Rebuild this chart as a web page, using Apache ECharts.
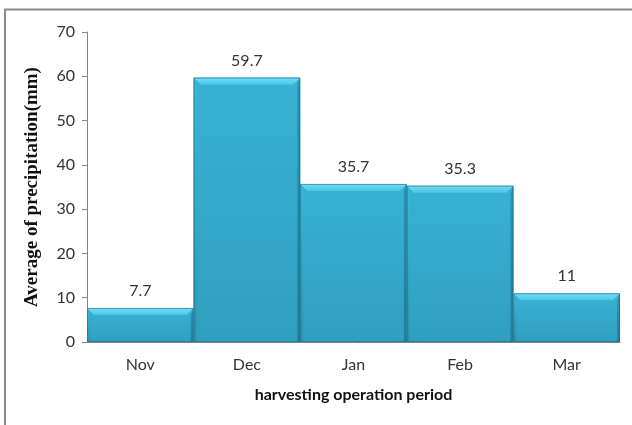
<!DOCTYPE html>
<html>
<head>
<meta charset="utf-8">
<script src="https://cdn.jsdelivr.net/npm/echarts@6/dist/echarts.min.js"></script>
<style>
html,body{margin:0;padding:0;background:#fff;}
#c{width:632px;height:425px;}
</style>
</head>
<body>
<div id="c"></div>
<script>
const categories = ['Nov', 'Dec', 'Jan', 'Feb', 'Mar'];
const values = [7.7, 59.7, 35.7, 35.3, 11];
const valueLabels = ['7.7', '59.7', '35.7', '35.3', '11'];
const yAxisTitle = 'Average of precipitation(mm)';
const xAxisTitle = 'harvesting operation period';

const chart = echarts.init(document.getElementById('c'));

function renderBar(params, api) {
  const idx = api.value(0);
  const v = api.value(1);
  const top = api.coord([idx, v]);
  const base = api.coord([idx, 0]);
  const w = api.size([1, 0])[0];
  const x0 = top[0] - w / 2, x1 = top[0] + w / 2;
  const y0 = top[1], y1 = base[1];
  const b = Math.min(7, (y1 - y0) / 2);
  const s = 3;
  const lin = (c0, c1) => new echarts.graphic.LinearGradient(0, 0, 0, 1, [{offset: 0, color: c0}, {offset: 1, color: c1}]);
  return {
    type: 'group',
    children: [
      {type: 'rect', shape: {x: x0, y: y0, width: w, height: y1 - y0},
        style: {fill: lin('#38b2d4', '#309fbf')}},
      {type: 'polygon', shape: {points: [[x0, y0], [x1, y0], [x1 - b, y0 + b], [x0 + b, y0 + b]]},
        style: {fill: lin('#74dff7', '#4cc6e6')}},
      {type: 'polygon', shape: {points: [[x0, y0], [x0 + s, y0 + b], [x0 + s, y1], [x0, y1]]},
        style: {fill: lin('#3cb8da', '#2c92b0')}},
      {type: 'polygon', shape: {points: [[x1, y0], [x1 - s, y0 + b], [x1 - s, y1], [x1, y1]]},
        style: {fill: lin('#2b95b4', '#23809c')}},
      {type: 'rect', shape: {x: x0 + 0.5, y: y0 + 0.5, width: w - 1, height: y1 - y0 - 1},
        style: {fill: null, stroke: 'rgba(30,105,130,0.6)', lineWidth: 1}},
      {type: 'text', x: top[0], y: y0 - 9,
        style: {text: valueLabels[params.dataIndex], fill: '#333', font: '16px Lato',
          align: 'center', verticalAlign: 'bottom'}}
    ]
  };
}

chart.setOption({
  animation: false,
  graphic: [
    {type: 'rect', shape: {x: 5, y: 9.5, width: 700, height: 500},
      style: {fill: null, stroke: '#8a8a8a', lineWidth: 2}, z: 10}
  ],
  grid: {left: 87, right: 12, top: 32, bottom: 83},
  xAxis: {
    type: 'category',
    data: categories,
    boundaryGap: true,
    axisLine: {show: true, lineStyle: {color: '#868686'}},
    axisTick: {show: false},
    axisLabel: {color: '#333', fontSize: 16, fontFamily: 'Lato', margin: 15},
    name: xAxisTitle,
    nameLocation: 'middle',
    nameGap: 45,
    nameTextStyle: {color: '#111', fontSize: 16, fontWeight: 'bold', fontFamily: 'Lato'}
  },
  yAxis: {
    type: 'value',
    min: 0, max: 70, interval: 10,
    splitLine: {show: false},
    axisLine: {show: true, lineStyle: {color: '#868686'}},
    axisTick: {show: true, length: 5, lineStyle: {color: '#868686'}},
    axisLabel: {color: '#333', fontSize: 16, fontFamily: 'Lato', margin: 12},
    name: yAxisTitle,
    nameLocation: 'middle',
    nameGap: 45,
    nameRotate: 90,
    nameTextStyle: {color: '#111', fontSize: 19, fontWeight: 'bold', fontFamily: 'Liberation Serif'}
  },
  series: [{
    type: 'custom',
    renderItem: renderBar,
    encode: {x: 0, y: 1},
    data: categories.map((c, i) => [i, values[i]]),
    clip: false
  }]
});
</script>
</body>
</html>
